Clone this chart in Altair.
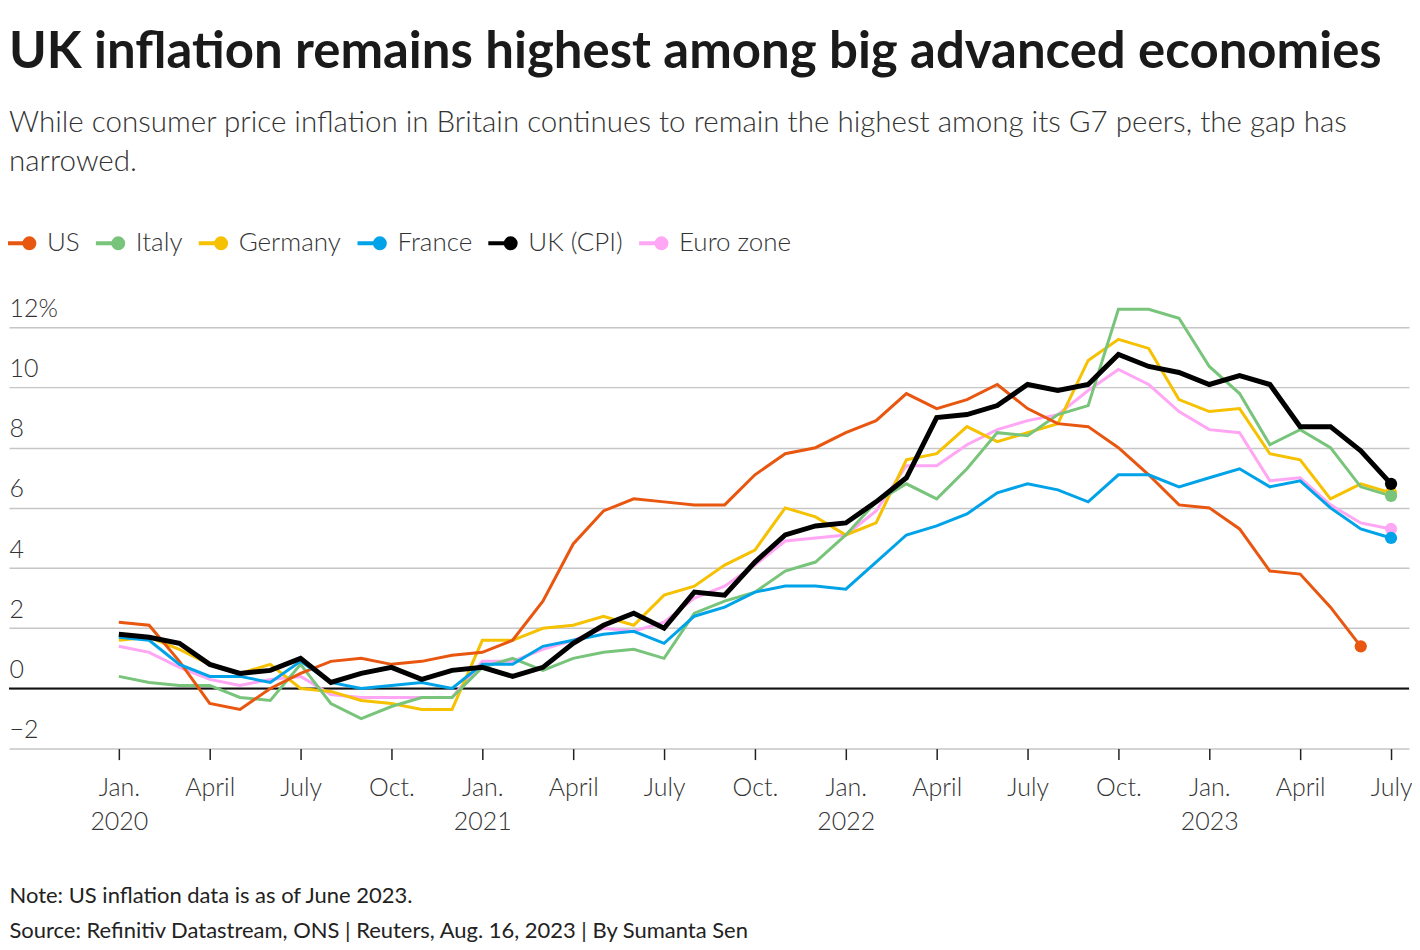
import altair as alt
import pandas as pd

# ---------------- data (monthly, Jan 2020 .. Jul 2023) ----------------
start_year = 2020
quarter_labels = ["Jan.", "April", "July", "Oct."]

series_names = ["US", "Italy", "Germany", "France", "UK (CPI)", "Euro zone"]
series_colors = ["#E8560F", "#78C47B", "#F5C100", "#00A3E8", "#000000", "#FFA6F4"]

us = [2.2, 2.1, 0.9, -0.5, -0.7, 0.0, 0.5, 0.9, 1.0, 0.8, 0.9, 1.1,
      1.2, 1.6, 2.9, 4.8, 5.9, 6.3, 6.2, 6.1, 6.1, 7.1, 7.8, 8.0,
      8.5, 8.9, 9.8, 9.3, 9.6, 10.1, 9.3, 8.8, 8.7, 8.0, 7.1, 6.1,
      6.0, 5.3, 3.9, 3.8, 2.7, 1.4]
italy = [0.4, 0.2, 0.1, 0.1, -0.3, -0.4, 0.8, -0.5, -1.0, -0.6, -0.3, -0.3,
         0.7, 1.0, 0.6, 1.0, 1.2, 1.3, 1.0, 2.5, 2.9, 3.2, 3.9, 4.2,
         5.1, 6.2, 6.8, 6.3, 7.3, 8.5, 8.4, 9.1, 9.4, 12.6, 12.6, 12.3,
         10.7, 9.8, 8.1, 8.6, 8.0, 6.7, 6.4]
germany = [1.6, 1.7, 1.3, 0.8, 0.5, 0.8, 0.0, -0.1, -0.4, -0.5, -0.7, -0.7,
           1.6, 1.6, 2.0, 2.1, 2.4, 2.1, 3.1, 3.4, 4.1, 4.6, 6.0, 5.7,
           5.1, 5.5, 7.6, 7.8, 8.7, 8.2, 8.5, 8.8, 10.9, 11.6, 11.3, 9.6,
           9.2, 9.3, 7.8, 7.6, 6.3, 6.8, 6.5]
france = [1.7, 1.6, 0.8, 0.4, 0.4, 0.2, 0.9, 0.2, 0.0, 0.1, 0.2, 0.0,
          0.8, 0.8, 1.4, 1.6, 1.8, 1.9, 1.5, 2.4, 2.7, 3.2, 3.4, 3.4,
          3.3, 4.2, 5.1, 5.4, 5.8, 6.5, 6.8, 6.6, 6.2, 7.1, 7.1, 6.7,
          7.0, 7.3, 6.7, 6.9, 6.0, 5.3, 5.0]
uk = [1.8, 1.7, 1.5, 0.8, 0.5, 0.6, 1.0, 0.2, 0.5, 0.7, 0.3, 0.6,
      0.7, 0.4, 0.7, 1.5, 2.1, 2.5, 2.0, 3.2, 3.1, 4.2, 5.1, 5.4,
      5.5, 6.2, 7.0, 9.0, 9.1, 9.4, 10.1, 9.9, 10.1, 11.1, 10.7, 10.5,
      10.1, 10.4, 10.1, 8.7, 8.7, 7.9, 6.8]
euro = [1.4, 1.2, 0.7, 0.3, 0.1, 0.3, 0.4, -0.2, -0.3, -0.3, -0.3, -0.3,
        0.9, 0.9, 1.3, 1.6, 2.0, 1.9, 2.2, 3.0, 3.4, 4.1, 4.9, 5.0,
        5.1, 5.9, 7.4, 7.4, 8.1, 8.6, 8.9, 9.1, 9.9, 10.6, 10.1, 9.2,
        8.6, 8.5, 6.9, 7.0, 6.1, 5.5, 5.3]

y_ticks = [-2, 0, 2, 4, 6, 8, 10, 12]
x_ticks = [0, 3, 6, 9, 12, 15, 18, 21, 24, 27, 30, 33, 36, 39, 42]

title_text = "UK inflation remains highest among big advanced economies"
subtitle_lines = [
    "While consumer price inflation in Britain continues to remain the highest among its G7 peers, the gap has",
    "narrowed.",
]
footer_lines = [
    "Note: US inflation data is as of June 2023.",
    "Source: Refinitiv Datastream, ONS | Reuters, Aug. 16, 2023 | By Sumanta Sen",
]

# ---------------- build tables ----------------
all_values = dict(zip(series_names, [us, italy, germany, france, uk, euro]))
rows = []
for name, vals in all_values.items():
    for i, v in enumerate(vals):
        rows.append({"series": name, "m": i, "value": v})
df = pd.DataFrame(rows)

draw_order = ["Euro zone", "Germany", "Italy", "US", "France", "UK (CPI)"]
end = df.groupby("series").tail(1).copy()
end["ord"] = end["series"].map({s: k for k, s in enumerate(draw_order)})
end = end.sort_values("ord")

FONT = "Lato"

x_label_expr = (
    "datum.value % 12 == 0 ? ['" + quarter_labels[0] + "', '' + (" + str(start_year)
    + " + floor(datum.value / 12))] : " + str(quarter_labels) + "[floor((datum.value % 12) / 3)]"
)

x_enc = alt.X(
    "m:Q",
    scale=alt.Scale(domain=[-3.626, 42.593], nice=False, zero=False),
    axis=alt.Axis(
        values=x_ticks, labelExpr=x_label_expr, grid=False, domain=False,
        ticks=True, tickSize=11, tickWidth=1.5, tickColor="#222",
        labelFont=FONT, labelFontSize=25, labelFontWeight=300, labelColor="#333",
        labelLineHeight=34, labelPadding=16, labelFlush=False, labelOverlap=False,
        title=footer_lines, titleFont=FONT, titleFontSize=22, titleFontWeight="normal",
        titleColor="#222", titleAnchor="start", titleAlign="left", titleBaseline="top",
        titleX=0, titleY=137, titleLineHeight=35,
    ),
)
y_enc = alt.Y(
    "value:Q",
    scale=alt.Scale(domain=[-2, 13], nice=False, zero=False),
    axis=alt.Axis(
        values=y_ticks, grid=True, gridColor="#c6c6c6", gridWidth=1.5, domain=False,
        ticks=False, tickSize=0, labelPadding=0, labelAlign="left", labelBaseline="alphabetic",
        labelOffset=-11, labelFont=FONT, labelFontSize=25, labelFontWeight=300, labelColor="#333",
        labelExpr="datum.value == " + str(max(y_ticks)) + " ? datum.label + '%' : datum.label",
        title=None,
    ),
)

legend_path = (
    "M -2 0 L 1.2 0 "
    "M 1.914 0 A 0.714 0.714 0 1 1 0.486 0 A 0.714 0.714 0 1 1 1.914 0 "
    "M 1.414 0 A 0.214 0.214 0 1 1 0.986 0 A 0.214 0.214 0 1 1 1.414 0"
)
color_enc = alt.Color(
    "series:N",
    scale=alt.Scale(domain=series_names, range=series_colors),
    legend=alt.Legend(
        title=None, orient="none", direction="horizontal", legendX=-1, legendY=-67,
        symbolType=legend_path, symbolSize=196, symbolStrokeWidth=4, symbolOpacity=1,
        labelFont=FONT, labelFontSize=26, labelFontWeight=300, labelColor="#333",
        labelOffset=13, columnPadding=8,
    ),
)

zero = alt.Chart(pd.DataFrame({"value": [0]})).mark_rule(color="#111", strokeWidth=2).encode(y="value:Q")

lines = []
for s in draw_order:
    lines.append(
        alt.Chart(df).transform_filter(alt.datum.series == s).mark_line(
            strokeWidth=5 if s == "UK (CPI)" else 3
        ).encode(x=x_enc, y=y_enc, color=color_enc)
    )

points = alt.Chart(end).mark_point(filled=True, size=150, opacity=1).encode(
    x=x_enc, y=y_enc, color=color_enc, order=alt.Order("ord:Q")
)

chart = alt.layer(zero, *lines, points).properties(
    width=1402,
    height=452,
    padding={"left": 0, "top": 18, "right": 0, "bottom": 0},
    title=alt.TitleParams(
        text=title_text, subtitle=subtitle_lines, anchor="start", frame="group",
        font=FONT, fontSize=51, fontWeight="bold", color="#1a1a1a",
        subtitleFont=FONT, subtitleFontSize=29.6, subtitleFontWeight=300, subtitleColor="#333",
        subtitleLineHeight=39, subtitlePadding=30, offset=53,
    ),
).configure_view(stroke=None)

chart.save("out.html", embed_options={"renderer": "svg", "actions": False})
